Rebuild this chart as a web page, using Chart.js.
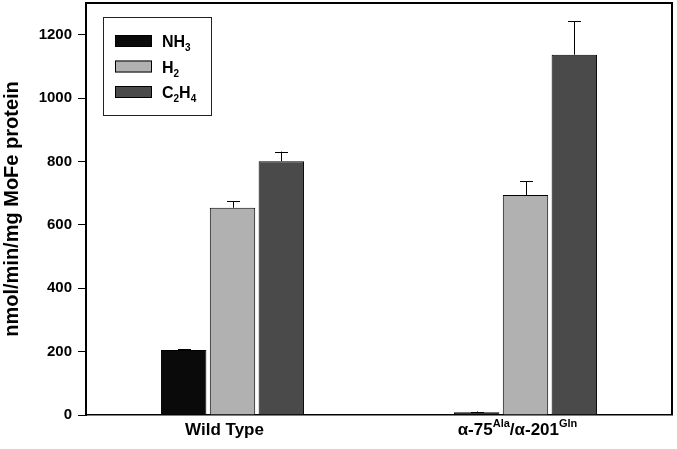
<!DOCTYPE html>
<html>
<head>
<meta charset="utf-8">
<script src="https://cdn.jsdelivr.net/npm/chart.js@4.4.1/dist/chart.umd.min.js"></script>
<style>
  html, body { margin: 0; padding: 0; background: #fff; }
  #wrap { width: 677px; height: 449px; position: relative; }
</style>
</head>
<body>
<div id="wrap"><canvas id="rateChart"></canvas></div>
<script>
// categories (label parts: [text, superscript] pairs)
const categories = ["Wild Type", "Mutant"];
const categoryParts = [
  [["Wild Type", ""]],
  [["\u03b1-75", "Ala"], ["/\u03b1-201", "Gln"]]
];

// series: [main text, subscript] pairs for legend
const seriesNames = ["NH3", "H2", "C2H4"];
const seriesParts = [
  [["NH", "3"]],
  [["H", "2"]],
  [["C", "2"], ["H", "4"]]
];
const nh3Values = [205, 9];
const h2Values = [654, 694];
const c2h4Values = [801, 1137];
const nh3Errors = [3, 2];
const h2Errors = [20, 43];
const c2h4Errors = [30, 106];

const yTicks = [0, 200, 400, 600, 800, 1000, 1200];

const FONT = "'Liberation Sans', Arial, sans-serif";

// draw text with sub/superscripts, returns width
function drawParts(ctx, parts, x, y, size, shift, measureOnly) {
  let cx = x;
  parts.forEach(([main, extra]) => {
    ctx.font = `bold ${size}px ${FONT}`;
    if (!measureOnly) ctx.fillText(main, cx, y);
    cx += ctx.measureText(main).width;
    if (extra) {
      ctx.font = `bold ${Math.round(size * 0.64)}px ${FONT}`;
      if (!measureOnly) ctx.fillText(extra, cx, y + shift);
      cx += ctx.measureText(extra).width;
    }
  });
  return cx - x;
}

const errorBars = {
  id: "errorBars",
  afterDatasetsDraw(chart) {
    const ctx = chart.ctx;
    const yScale = chart.scales.y;
    ctx.save();
    ctx.strokeStyle = "#000";
    ctx.lineWidth = 1;
    chart.data.datasets.forEach((ds, i) => {
      const meta = chart.getDatasetMeta(i);
      meta.data.forEach((bar, j) => {
        const top = yScale.getPixelForValue(ds.data[j] + ds.errors[j]);
        const x = Math.round(bar.x) + 0.5;
        ctx.beginPath();
        ctx.moveTo(x, bar.y);
        ctx.lineTo(x, top);
        ctx.moveTo(x - 6.5, Math.round(top) + 0.5);
        ctx.lineTo(x + 6.5, Math.round(top) + 0.5);
        ctx.stroke();
      });
    });
    ctx.restore();
  }
};

const frameAndLabels = {
  id: "frameAndLabels",
  afterDraw(chart) {
    const ctx = chart.ctx;
    const a = chart.chartArea;
    ctx.save();
    // top and right frame
    ctx.strokeStyle = "#000";
    ctx.lineWidth = 2;
    ctx.beginPath();
    ctx.moveTo(a.left, a.top);
    ctx.lineTo(a.right, a.top);
    ctx.lineTo(a.right, a.bottom);
    ctx.stroke();

    // x category labels with superscripts
    ctx.fillStyle = "#000";
    ctx.textBaseline = "alphabetic";
    ctx.textAlign = "left";
    const xScale = chart.scales.x;
    categoryParts.forEach((parts, i) => {
      const w = drawParts(ctx, parts, 0, 0, 17, -8, true);
      const cx = xScale.getPixelForTick(i) - 8;
      drawParts(ctx, parts, cx - w / 2, a.bottom + 20, 17, -8, false);
    });

    // legend box
    const lx = 103, ly = 17, lw = 108, lh = 98;
    ctx.lineWidth = 1;
    ctx.strokeStyle = "#222";
    ctx.strokeRect(lx + 0.5, ly + 0.5, lw, lh);
    chart.data.datasets.forEach((ds, i) => {
      const sy = 35 + i * 25.5;
      ctx.fillStyle = ds.backgroundColor;
      ctx.fillRect(115, sy, 37, 12);
      ctx.strokeStyle = "#000";
      ctx.strokeRect(115.5, sy + 0.5, 36, 11);
      ctx.fillStyle = "#000";
      drawParts(ctx, seriesParts[i], 162, sy + 12, 16, 4, false);
    });
    ctx.restore();
  }
};

new Chart(document.getElementById("rateChart"), {
  type: "bar",
  data: {
    labels: categories,
    datasets: [
      { label: seriesNames[0], data: nh3Values, errors: nh3Errors, backgroundColor: "#0a0a0a" },
      { label: seriesNames[1], data: h2Values, errors: h2Errors, backgroundColor: "#b1b1b1" },
      { label: seriesNames[2], data: c2h4Values, errors: c2h4Errors, backgroundColor: "#4a4a4a" }
    ].map(ds => Object.assign(ds, {
      borderColor: "#000",
      borderWidth: 1,
      categoryPercentage: 0.5,
      barPercentage: 0.93
    }))
  },
  options: {
    responsive: true,
    maintainAspectRatio: false,
    animation: false,
    layout: { padding: { top: 3, right: 5, left: 0, bottom: 0 } },
    plugins: { legend: { display: false }, tooltip: { enabled: false } },
    scales: {
      x: {
        grid: { display: false, drawTicks: false },
        border: { display: true, color: "#000", width: 1.5 },
        ticks: { display: false },
        afterFit(scale) { scale.height = 34; }
      },
      y: {
        min: 0,
        max: 1300,
        afterBuildTicks(scale) {
          scale.ticks = yTicks.map(v => ({ value: v }));
        },
        grid: { drawOnChartArea: false, tickLength: 8, tickColor: "#000", tickWidth: 1 },
        border: { display: true, color: "#000", width: 2 },
        ticks: {
          color: "#000",
          padding: 6,
          font: { family: FONT, size: 15, weight: "bold" },
          callback: v => String(v)
        },
        title: {
          display: true,
          text: "nmol/min/mg MoFe protein",
          color: "#000",
          padding: { top: 0, bottom: 2 },
          font: { family: FONT, size: 20, weight: "bold" }
        },
        afterFit(scale) {
          scale.width = 86;
          scale.paddingTop = 0;
          scale.paddingBottom = 0;
        }
      }
    }
  },
  plugins: [errorBars, frameAndLabels]
});
</script>
</body>
</html>
